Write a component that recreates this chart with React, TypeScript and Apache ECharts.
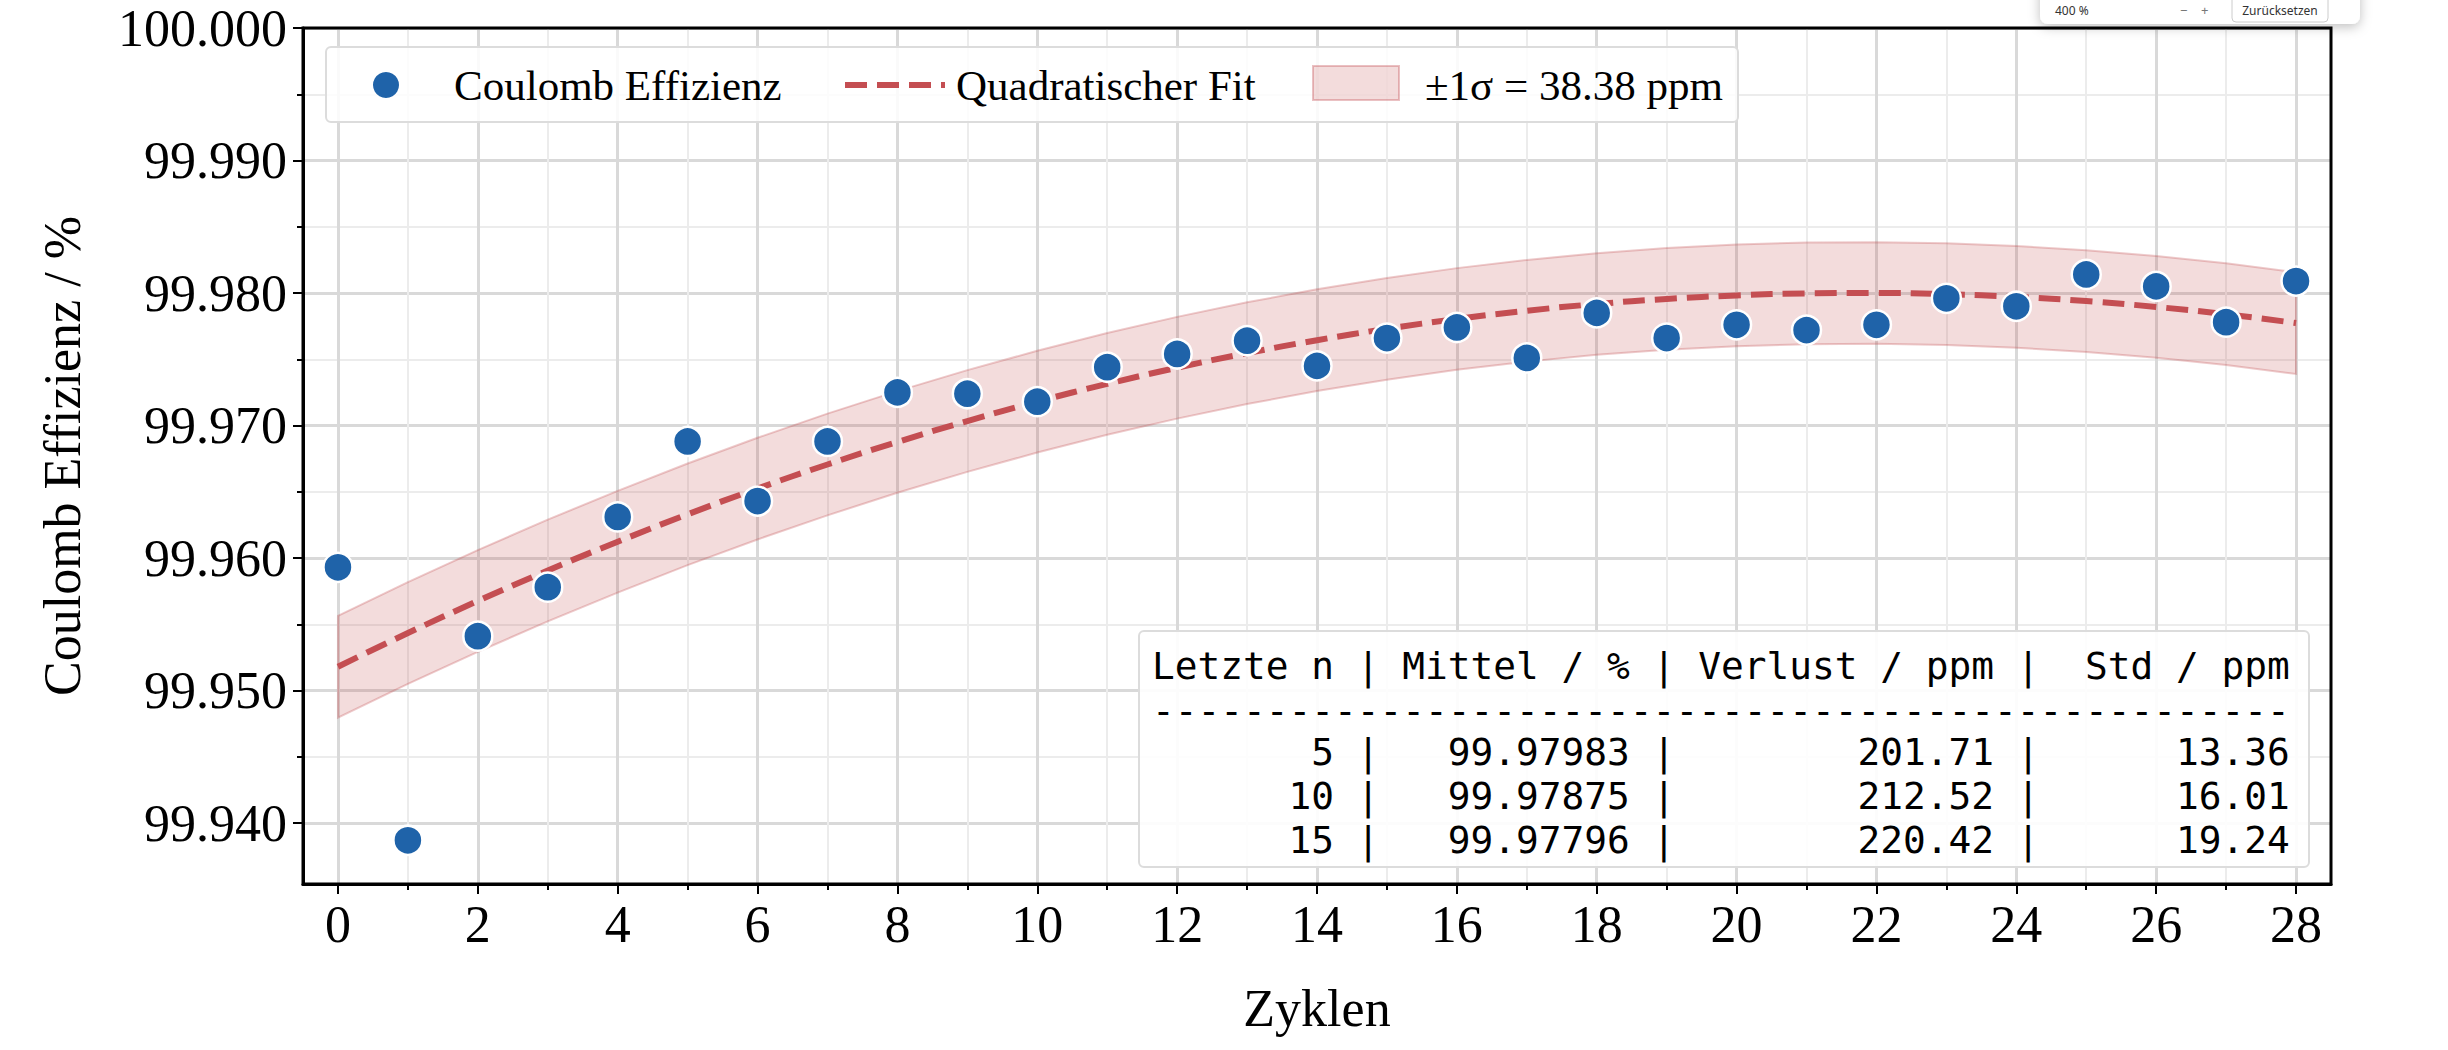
import React, { useEffect, useRef } from "react";
import * as echarts from "echarts";

const cycles = Array.from({ length: 29 }, (_, i) => i);
const efficiency = [99.9593, 99.9387, 99.9541, 99.9578, 99.9631, 99.9688, 99.9643, 99.9688, 99.9725, 99.9724, 99.9718, 99.9744, 99.9754, 99.9764, 99.9745, 99.9766, 99.9774, 99.9751, 99.9785, 99.9766, 99.9776, 99.9772, 99.9776, 99.9796, 99.979, 99.9814, 99.9805, 99.9778, 99.9809];
const fit = [99.9518, 99.95434, 99.95676, 99.95906, 99.96123, 99.9633, 99.96524, 99.96706, 99.96876, 99.97034, 99.9718, 99.97314, 99.97436, 99.97546, 99.97644, 99.9773, 99.97804, 99.97866, 99.97917, 99.97955, 99.97982, 99.97997, 99.98, 99.97991, 99.97971, 99.97939, 99.97895, 99.9784, 99.97773];
const sigma = 0.003838;
const yMajor = [99.94, 99.95, 99.96, 99.97, 99.98, 99.99, 100.0];
const yMinor = [99.945, 99.955, 99.965, 99.975, 99.985, 99.995];
const xMajor = [0, 2, 4, 6, 8, 10, 12, 14, 16, 18, 20, 22, 24, 26, 28];
const xMinor = [1, 3, 5, 7, 9, 11, 13, 15, 17, 19, 21, 23, 25, 27];
const tableN = [5, 10, 15];
const tableMean = ["99.97983", "99.97875", "99.97796"];
const tableLoss = ["201.71", "212.52", "220.42"];
const tableStd = ["13.36", "16.01", "19.24"];

const SERIF = "'Liberation Serif', 'DejaVu Serif', serif";
const MONO = "'DejaVu Sans Mono', monospace";
const RED = "#c44e52";

export default function App() {
  const ref = useRef<HTMLDivElement>(null);
  useEffect(() => {
    const chart = echarts.init(ref.current!, null, { renderer: "svg" });
    const lower = fit.map((v) => v - sigma);
    const upper = fit.map((v) => v + sigma);
    const header = "Letzte n | Mittel / % | Verlust / ppm |  Std / ppm";
    const rows = tableN.map(
      (n, i) =>
        String(n).padStart(8) + " | " + tableMean[i].padStart(10) + " | " + tableLoss[i].padStart(13) + " | " + tableStd[i].padStart(10)
    );
    const lines = [header, "-".repeat(50), ...rows];
    const lineY = [666, 711, 752, 796, 840];
    const xA = (extra: any) => ({ type: "value", min: -0.5, max: 28.5, ...extra });
    const yA = (extra: any) => ({ type: "value", min: 99.9354, max: 100, ...extra });
    chart.setOption({
      animation: false,
      grid: { left: 303, right: 117, top: 28, bottom: 166, show: true, borderColor: "#000", borderWidth: 3, z: 10 },
      xAxis: [
        xA({
          name: "Zyklen", nameLocation: "middle", nameGap: 98,
          nameTextStyle: { fontFamily: SERIF, fontSize: 52, color: "#000" },
          axisLine: { show: true, onZero: false, lineStyle: { color: "#000", width: 3 } },
          axisTick: { show: true, length: 10, lineStyle: { color: "#000", width: 2 }, customValues: xMajor },
          axisLabel: { customValues: xMajor, fontFamily: SERIF, fontSize: 52, color: "#000", margin: 14 },
          splitLine: { show: true, lineStyle: { color: "#d9d9d9", width: 3 } },
        }),
        xA({
          position: "bottom",
          axisLine: { show: false, onZero: false },
          axisTick: { show: true, length: 6, lineStyle: { color: "#000", width: 2 }, customValues: xMinor },
          axisLabel: { show: false },
          splitLine: { show: true, lineStyle: { color: "#ececec", width: 2 } },
        }),
      ],
      yAxis: [
        yA({
          name: "Coulomb Effizienz / %", nameLocation: "middle", nameGap: 215,
          nameTextStyle: { fontFamily: SERIF, fontSize: 52, color: "#000" },
          axisLine: { show: true, onZero: false, lineStyle: { color: "#000", width: 3 } },
          axisTick: { show: true, length: 10, lineStyle: { color: "#000", width: 2 }, customValues: yMajor },
          axisLabel: { customValues: yMajor, fontFamily: SERIF, fontSize: 52, color: "#000", margin: 16, formatter: (v: number) => v.toFixed(3) },
          splitLine: { show: true, lineStyle: { color: "#d9d9d9", width: 3 } },
        }),
        yA({
          position: "left",
          axisLine: { show: false, onZero: false },
          axisTick: { show: true, length: 6, lineStyle: { color: "#000", width: 2 }, customValues: yMinor },
          axisLabel: { show: false },
          splitLine: { show: true, lineStyle: { color: "#ececec", width: 2 } },
        }),
      ],
      series: [
        {
          type: "custom",
          silent: true,
          z: 2,
          data: cycles.map((x, i) => [x, lower[i], upper[i]]),
          renderItem: (params: any, api: any) => {
            if (params.dataIndex !== 0) return null;
            const top = cycles.map((x, i) => api.coord([x, upper[i]]));
            const bot = cycles.map((x, i) => api.coord([x, lower[i]])).reverse();
            return {
              type: "polygon",
              shape: { points: [...top, ...bot] },
              style: { fill: "rgba(196,78,82,0.2)", stroke: "rgba(196,78,82,0.3)", lineWidth: 2 },
            };
          },
        },
        { type: "line", data: cycles.map((x, i) => [x, fit[i]]), symbol: "none", smooth: true, lineStyle: { color: RED, width: 6, type: [22, 10] }, z: 3 },
        { type: "scatter", data: cycles.map((x, i) => [x, efficiency[i]]), symbolSize: 29, itemStyle: { color: "#1f63a9", borderColor: "#fff", borderWidth: 2.5, opacity: 1 }, z: 4 },
      ],
      graphic: [
        { type: "rect", shape: { x: 326, y: 47, width: 1412, height: 75, r: 5 }, style: { fill: "rgba(255,255,255,0.85)", stroke: "#dcdcdc", lineWidth: 2 }, z: 20 },
        { type: "circle", shape: { cx: 386, cy: 85, r: 13 }, style: { fill: "#1f63a9" }, z: 21 },
        { type: "text", x: 454, y: 85, style: { text: "Coulomb Effizienz", fontFamily: SERIF, fontSize: 43, fill: "#000", textVerticalAlign: "middle" }, z: 21 },
        { type: "line", shape: { x1: 845, y1: 85, x2: 945, y2: 85 }, style: { stroke: RED, lineWidth: 6, lineDash: [22, 10] }, z: 21 },
        { type: "text", x: 956, y: 85, style: { text: "Quadratischer Fit", fontFamily: SERIF, fontSize: 43, fill: "#000", textVerticalAlign: "middle" }, z: 21 },
        { type: "rect", shape: { x: 1313, y: 66, width: 86, height: 34 }, style: { fill: "rgba(196,78,82,0.2)", stroke: "rgba(196,78,82,0.35)", lineWidth: 2 }, z: 21 },
        { type: "text", x: 1425, y: 85, style: { text: "±1σ = 38.38 ppm", fontFamily: SERIF, fontSize: 43, fill: "#000", textVerticalAlign: "middle" }, z: 21 },
        { type: "rect", shape: { x: 1139, y: 631, width: 1170, height: 236, r: 5 }, style: { fill: "rgba(255,255,255,0.9)", stroke: "#dcdcdc", lineWidth: 2 }, z: 20 },
        ...lines.map((t, i) => ({ type: "text", x: 1152, y: lineY[i], style: { text: t, fontFamily: MONO, fontSize: 37.8, fill: "#000", textVerticalAlign: "middle" }, z: 21 })),
        { type: "rect", shape: { x: 2040, y: -20, width: 320, height: 44, r: 8 }, style: { fill: "#fff", shadowBlur: 12, shadowColor: "rgba(0,0,0,0.25)", shadowOffsetY: 3 }, z: 30 },
        { type: "text", x: 2055, y: 10, style: { text: "400 %", fontFamily: "'Noto Sans', sans-serif", fontSize: 12, fill: "#333", textVerticalAlign: "middle" }, z: 31 },
        { type: "text", x: 2180, y: 10, style: { text: "−    +", fontFamily: "'Noto Sans', sans-serif", fontSize: 13, fill: "#777", textVerticalAlign: "middle" }, z: 31 },
        { type: "rect", shape: { x: 2232, y: -6, width: 96, height: 28, r: 4 }, style: { fill: "#fff", stroke: "#ccc", lineWidth: 1 }, z: 31 },
        { type: "text", x: 2280, y: 10, style: { text: "Zurücksetzen", fontFamily: "'Noto Sans', sans-serif", fontSize: 12, fill: "#333", textAlign: "center", textVerticalAlign: "middle" }, z: 32 },
      ],
    });
    return () => chart.dispose();
  }, []);
  return <div ref={ref} style={{ position: "absolute", left: 0, top: 0, width: 2448, height: 1050, background: "#fff" }} />;
}
